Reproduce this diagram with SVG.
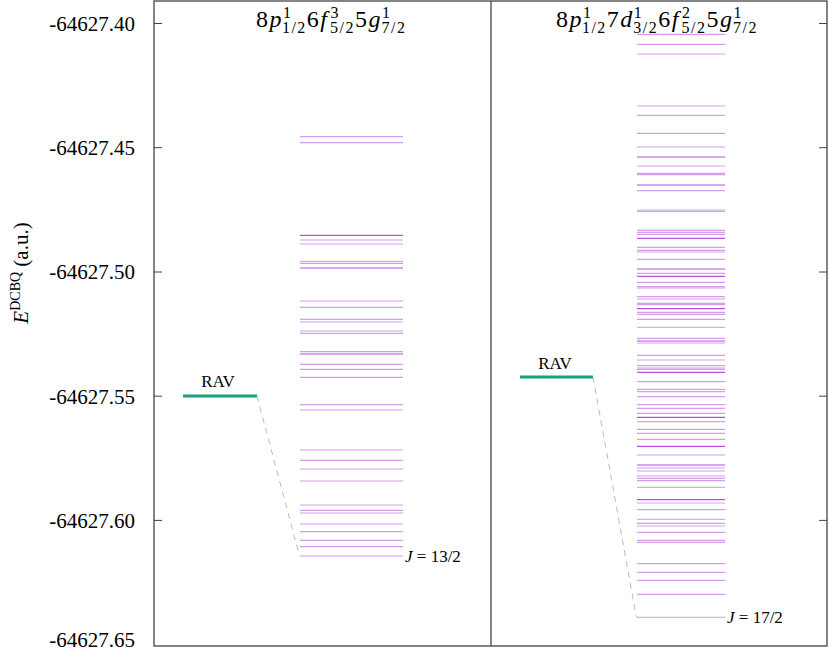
<svg xmlns="http://www.w3.org/2000/svg" width="830" height="651" viewBox="0 0 830 651">
<style>
.ax{stroke:#444;stroke-width:1.3;fill:none}
.tk{stroke:#444;stroke-width:1}
.tl{font-family:"Liberation Serif",serif;font-size:21px;fill:#000;text-anchor:end}
.t{font-family:"Liberation Serif",serif;fill:#000}
.lv line{stroke:#c77ee6;stroke-width:1.2;opacity:0.75}
.lv line.d{stroke:#b84fe0;opacity:1}
.lv line.g{stroke:#b0a0b8;opacity:0.7}
.rav{stroke:#12a37a;stroke-width:3}
.dash{stroke:#bbb;stroke-width:1;stroke-dasharray:6,5;fill:none}
.sp{font-size:16px}
.ttl{letter-spacing:1.5px}
</style>
<g id="axes">
<rect class="ax" x="154" y="1" width="673" height="645"/>
<line class="ax" x1="491" y1="1" x2="491" y2="646"/>
<g class="tk">
<line x1="154" y1="23.5" x2="162" y2="23.5"/><line x1="154" y1="147.7" x2="162" y2="147.7"/><line x1="154" y1="272" x2="162" y2="272"/><line x1="154" y1="396.2" x2="162" y2="396.2"/><line x1="154" y1="520.4" x2="162" y2="520.4"/>
<line x1="819" y1="23.5" x2="827" y2="23.5"/><line x1="819" y1="147.7" x2="827" y2="147.7"/><line x1="819" y1="272" x2="827" y2="272"/><line x1="819" y1="396.2" x2="827" y2="396.2"/><line x1="819" y1="520.4" x2="827" y2="520.4"/>
</g>
<text class="tl" x="135" y="31">-64627.40</text>
<text class="tl" x="135" y="155">-64627.45</text>
<text class="tl" x="135" y="279">-64627.50</text>
<text class="tl" x="135" y="404">-64627.55</text>
<text class="tl" x="135" y="528">-64627.60</text>
<text class="tl" x="135" y="647">-64627.65</text>
<text class="t" font-size="21" transform="translate(28,273) rotate(-90)" text-anchor="middle"><tspan font-style="italic">E</tspan><tspan font-size="14" dy="-8">DCBQ</tspan><tspan dy="8"> (a.u.)</tspan></text>
</g>
<g id="title-left">
<text class="t ttl" font-size="24" x="256" y="27">8<tspan font-style="italic">p</tspan><tspan class="sp" dy="-9">1</tspan><tspan class="sp" dx="-10" dy="15">1/2</tspan><tspan dy="-6">6</tspan><tspan font-style="italic">f</tspan><tspan class="sp" dx="2" dy="-9">3</tspan><tspan class="sp" dx="-10" dy="15">5/2</tspan><tspan dy="-6">5</tspan><tspan font-style="italic">g</tspan><tspan class="sp" dy="-9">1</tspan><tspan class="sp" dx="-10" dy="15">7/2</tspan></text>
</g>
<g id="title-right">
<text class="t ttl" font-size="24" x="556" y="27">8<tspan font-style="italic">p</tspan><tspan class="sp" dy="-9">1</tspan><tspan class="sp" dx="-10" dy="15">1/2</tspan><tspan dy="-6">7</tspan><tspan font-style="italic">d</tspan><tspan class="sp" dy="-9">1</tspan><tspan class="sp" dx="-10" dy="15">3/2</tspan><tspan dy="-6">6</tspan><tspan font-style="italic">f</tspan><tspan class="sp" dx="2" dy="-9">2</tspan><tspan class="sp" dx="-10" dy="15">5/2</tspan><tspan dy="-6">5</tspan><tspan font-style="italic">g</tspan><tspan class="sp" dy="-9">1</tspan><tspan class="sp" dx="-10" dy="15">7/2</tspan></text>
</g>
<g id="rav-left">
<line class="rav" x1="183" y1="396" x2="257" y2="396"/>
<text class="t" font-size="17" x="218" y="387" text-anchor="middle">RAV</text>
</g>
<g id="rav-right">
<line class="rav" x1="520" y1="377" x2="593" y2="377"/>
<text class="t" font-size="17" x="555" y="369" text-anchor="middle">RAV</text>
</g>
<g id="connectors">
<polyline class="dash" points="257,396 299,554 300,556"/>
<polyline class="dash" points="593,377 636,615 637,617"/>
</g>
<g id="levels-left" class="lv">
<line x1="300" x2="403" y1="136.7" y2="136.7"/><line x1="300" x2="403" y1="142.7" y2="142.7"/>
<line class="d" x1="300" x2="403" y1="235.3" y2="235.3"/><line x1="300" x2="403" y1="240" y2="240"/><line x1="300" x2="403" y1="244" y2="244"/>
<line class="g" x1="300" x2="403" y1="261.3" y2="261.3"/><line x1="300" x2="403" y1="263.3" y2="263.3"/><line class="d" x1="300" x2="403" y1="268" y2="268"/>
<line x1="300" x2="403" y1="301" y2="301"/><line x1="300" x2="403" y1="307.3" y2="307.3"/><line x1="300" x2="403" y1="319.3" y2="319.3"/><line x1="300" x2="403" y1="322" y2="322"/><line x1="300" x2="403" y1="331" y2="331"/><line x1="300" x2="403" y1="333.3" y2="333.3"/>
<line x1="300" x2="403" y1="351.7" y2="351.7"/><line class="d" x1="300" x2="403" y1="354" y2="354"/><line x1="300" x2="403" y1="364.3" y2="364.3"/><line x1="300" x2="403" y1="369.3" y2="369.3"/><line x1="300" x2="403" y1="377.3" y2="377.3"/>
<line x1="300" x2="403" y1="404.7" y2="404.7"/><line x1="300" x2="403" y1="410" y2="410"/>
<line x1="300" x2="403" y1="450" y2="450"/><line x1="300" x2="403" y1="460.3" y2="460.3"/><line x1="300" x2="403" y1="469" y2="469"/><line x1="300" x2="403" y1="481" y2="481"/>
<line x1="300" x2="403" y1="505" y2="505"/><line x1="300" x2="403" y1="510.3" y2="510.3"/><line x1="300" x2="403" y1="513" y2="513"/><line x1="300" x2="403" y1="524" y2="524"/><line x1="300" x2="403" y1="531.7" y2="531.7"/><line x1="300" x2="403" y1="540.3" y2="540.3"/><line x1="300" x2="403" y1="546.7" y2="546.7"/><line x1="300" x2="403" y1="556" y2="556"/>
<text class="t" font-size="17" x="405" y="562"><tspan font-style="italic">J</tspan> = 13/2</text>
</g>
<g id="levels-right" class="lv">
<line x1="637" x2="725" y1="34.3" y2="34.3"/><line x1="637" x2="725" y1="44.3" y2="44.3"/><line x1="637" x2="725" y1="54" y2="54"/>
<line x1="637" x2="725" y1="106" y2="106"/><line x1="637" x2="725" y1="115.3" y2="115.3"/><line x1="637" x2="725" y1="133.3" y2="133.3"/><line x1="637" x2="725" y1="147" y2="147"/><line class="d" x1="637" x2="725" y1="157" y2="157"/><line x1="637" x2="725" y1="166" y2="166"/><line x1="637" x2="725" y1="173.3" y2="173.3"/><line x1="637" x2="725" y1="174.7" y2="174.7"/><line class="d" x1="637" x2="725" y1="185" y2="185"/><line x1="637" x2="725" y1="190.7" y2="190.7"/><line class="g" x1="637" x2="725" y1="210" y2="210"/><line x1="637" x2="725" y1="211.3" y2="211.3"/>
<line x1="637" x2="725" y1="230.3" y2="230.3"/><line x1="637" x2="725" y1="232.3" y2="232.3"/><line x1="637" x2="725" y1="234.3" y2="234.3"/><line class="d" x1="637" x2="725" y1="238.3" y2="238.3"/><line x1="637" x2="725" y1="247.3" y2="247.3"/><line x1="637" x2="725" y1="250.3" y2="250.3"/><line x1="637" x2="725" y1="252" y2="252"/><line x1="637" x2="725" y1="259.3" y2="259.3"/><line class="d" x1="637" x2="725" y1="269" y2="269"/><line x1="637" x2="725" y1="273.3" y2="273.3"/><line class="d" x1="637" x2="725" y1="276.3" y2="276.3"/><line x1="637" x2="725" y1="282.3" y2="282.3"/><line x1="637" x2="725" y1="286.7" y2="286.7"/><line x1="637" x2="725" y1="288" y2="288"/><line x1="637" x2="725" y1="296.7" y2="296.7"/><line x1="637" x2="725" y1="299" y2="299"/><line x1="637" x2="725" y1="303.3" y2="303.3"/><line x1="637" x2="725" y1="304.7" y2="304.7"/><line class="d" x1="637" x2="725" y1="308.7" y2="308.7"/><line x1="637" x2="725" y1="312.3" y2="312.3"/><line x1="637" x2="725" y1="314.3" y2="314.3"/><line x1="637" x2="725" y1="319.3" y2="319.3"/><line class="g" x1="637" x2="725" y1="327.3" y2="327.3"/><line x1="637" x2="725" y1="338.3" y2="338.3"/><line class="d" x1="637" x2="725" y1="341" y2="341"/><line x1="637" x2="725" y1="343" y2="343"/><line x1="637" x2="725" y1="355.3" y2="355.3"/><line x1="637" x2="725" y1="360" y2="360"/><line x1="637" x2="725" y1="365.7" y2="365.7"/><line x1="637" x2="725" y1="368" y2="368"/><line x1="637" x2="725" y1="369.3" y2="369.3"/><line class="d" x1="637" x2="725" y1="372.3" y2="372.3"/><line x1="637" x2="725" y1="381.7" y2="381.7"/><line x1="637" x2="725" y1="389.3" y2="389.3"/><line x1="637" x2="725" y1="391.7" y2="391.7"/><line x1="637" x2="725" y1="396.7" y2="396.7"/><line x1="637" x2="725" y1="404.7" y2="404.7"/><line x1="637" x2="725" y1="408.3" y2="408.3"/><line x1="637" x2="725" y1="413.3" y2="413.3"/><line class="d" x1="637" x2="725" y1="417.3" y2="417.3"/><line x1="637" x2="725" y1="421.7" y2="421.7"/><line x1="637" x2="725" y1="429.3" y2="429.3"/><line x1="637" x2="725" y1="433.3" y2="433.3"/><line x1="637" x2="725" y1="439.3" y2="439.3"/>
<line class="d" x1="637" x2="725" y1="446.3" y2="446.3"/><line x1="637" x2="725" y1="455" y2="455"/><line class="d" x1="637" x2="725" y1="465" y2="465"/><line x1="637" x2="725" y1="468" y2="468"/><line x1="637" x2="725" y1="471" y2="471"/><line x1="637" x2="725" y1="476" y2="476"/><line x1="637" x2="725" y1="478.3" y2="478.3"/><line x1="637" x2="725" y1="480.7" y2="480.7"/><line class="g" x1="637" x2="725" y1="487.3" y2="487.3"/><line class="d" x1="637" x2="725" y1="499.7" y2="499.7"/><line x1="637" x2="725" y1="503" y2="503"/><line x1="637" x2="725" y1="509.7" y2="509.7"/><line class="g" x1="637" x2="725" y1="519.3" y2="519.3"/><line x1="637" x2="725" y1="523.3" y2="523.3"/><line x1="637" x2="725" y1="526" y2="526"/><line x1="637" x2="725" y1="532.3" y2="532.3"/><line x1="637" x2="725" y1="540.3" y2="540.3"/><line x1="637" x2="725" y1="542.3" y2="542.3"/><line x1="637" x2="725" y1="563.7" y2="563.7"/><line x1="637" x2="725" y1="572.3" y2="572.3"/><line x1="637" x2="725" y1="580.3" y2="580.3"/><line x1="637" x2="725" y1="594.3" y2="594.3"/><line class="g" x1="637" x2="725" y1="617.3" y2="617.3"/>
<text class="t" font-size="17" x="727" y="623"><tspan font-style="italic">J</tspan> = 17/2</text>
</g>
</svg>
